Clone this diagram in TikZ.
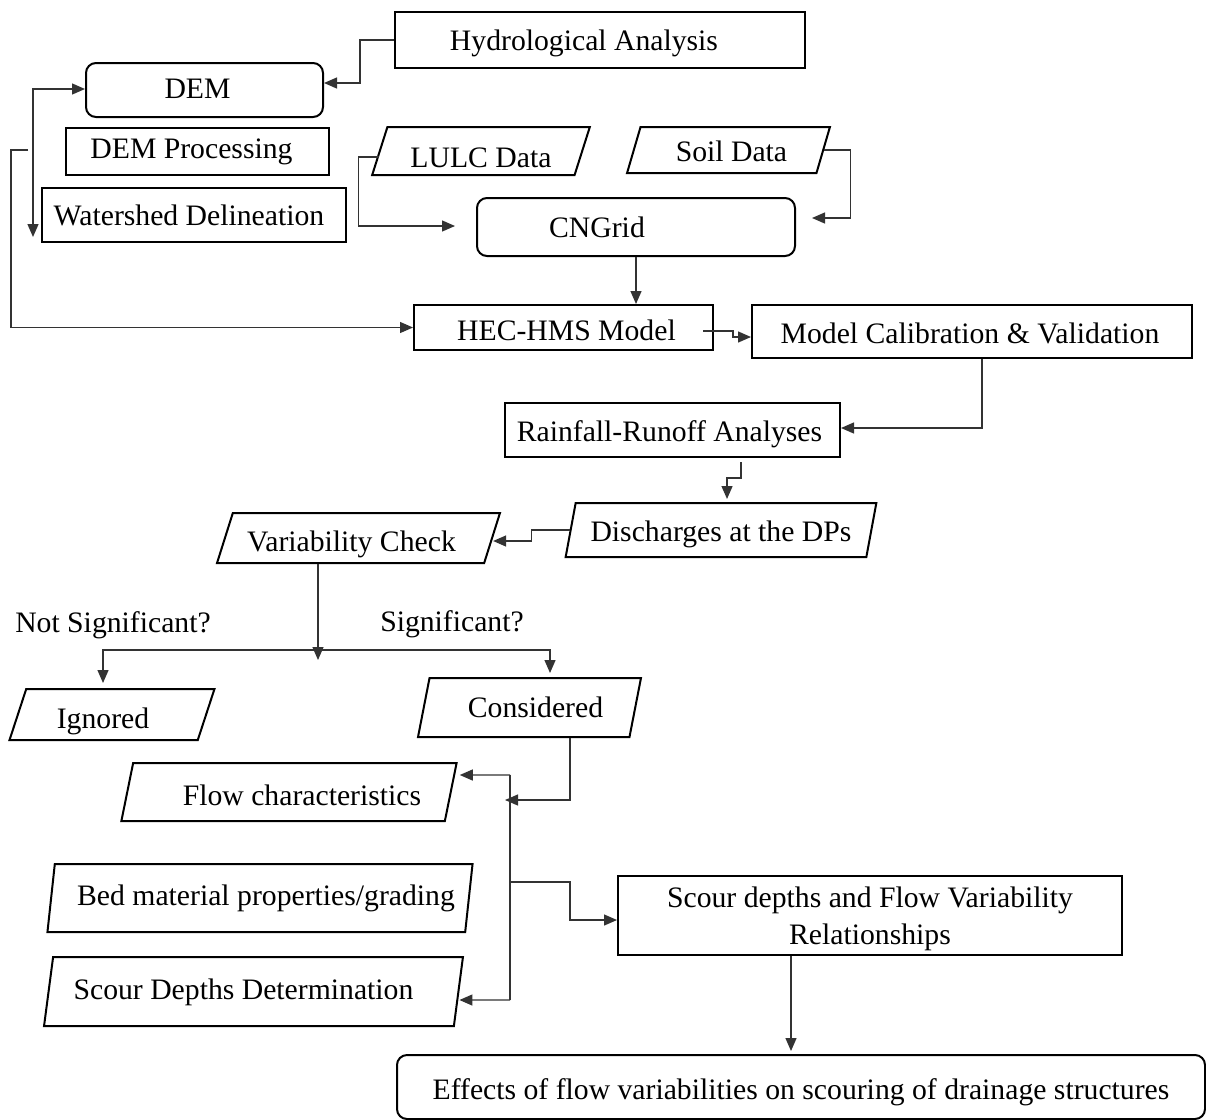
\documentclass[tikz,border=0pt]{standalone}
\usepackage{fontspec}
\setmainfont{Liberation Serif}
\usetikzlibrary{arrows.meta,shapes.geometric,calc}
\newcommand\boxfont{\fontsize{29.7}{37}\selectfont}
\tikzset{
  base/.style={draw=black, line width=2pt, inner sep=0pt, font=\boxfont, text=black,
               align=center, text height=27pt, text depth=7pt},
  rbox/.style={base, rectangle},
  roundbox/.style={base, rectangle, rounded corners=10pt},
  para/.style={base, trapezium, trapezium left angle=76, trapezium right angle=104,
               trapezium stretches=true},
  th/.style={text height=#1},
  conn/.style={draw=black!80, line width=1.3pt},
  tip/.tip={Triangle[length=13pt,width=11pt]},
  arr/.style={conn, -tip},
  darr/.style={conn, tip-tip},
  tag/.style={font=\boxfont, text=black, inner sep=0pt}
}
\begin{document}
\begin{tikzpicture}[x=1pt,y=-1pt]
\useasboundingbox[fill=white] (0,0) rectangle (1206,1119);

% --- input stage ---
\node[rbox, minimum width=410pt, minimum height=56pt] (hydro) at (600,40) {\hspace*{-32pt}Hydrological Analysis};
\node[roundbox, th=23pt, minimum width=237pt, minimum height=54pt] (dem) at (204.5,90) {\hspace*{-14pt}DEM};
\node[rbox, th=20pt, minimum width=263pt, minimum height=47pt] (demproc) at (197.5,151.5) {\hspace*{-12pt}DEM Processing};
\node[rbox, minimum width=304pt, minimum height=54pt] (wshed) at (194,215) {\hspace*{-10pt}Watershed Delineation};
\node[para, th=39pt, minimum width=218pt, minimum height=48pt] (lulc) at (481,151) {LULC Data};
\node[para, th=29pt, minimum width=203pt, minimum height=46pt] (soil) at (728.5,150) {\hspace*{6pt}Soil Data};
\node[roundbox, minimum width=318pt, minimum height=58pt] (cngrid) at (636,227) {\hspace*{-78pt}CNGrid};

% --- hydrologic model ---
\node[rbox, th=32pt, minimum width=299pt, minimum height=45pt] (hec) at (563.5,327.5) {\hspace*{6pt}HEC-HMS Model};
\node[rbox, th=30pt, minimum width=440pt, minimum height=53pt] (modcal) at (972,331.5) {\hspace*{-4pt}Model Calibration \& Validation};
\node[rbox, th=29pt, minimum width=335pt, minimum height=54pt] (rain) at (672.5,430) {\hspace*{-6pt}Rainfall-Runoff Analyses};
\node[para, th=29pt, minimum width=312pt, minimum height=54pt] (disch) at (721,530) {Discharges at the DPs};
\node[para, th=33pt, minimum width=283pt, minimum height=50pt, trapezium left angle=73, trapezium right angle=107] (var) at (358.5,538) {\hspace*{-14pt}Variability Check};

% --- decision ---
\node[tag] (notsig) at (113,625) {Not Significant?};
\node[tag] (sig) at (452,624) {Significant?};
\node[para, th=34pt, minimum width=206pt, minimum height=51pt, trapezium left angle=80, trapezium right angle=100] (ignored) at (112,714.5) {\hspace*{-18pt}Ignored};
\node[para, minimum width=223pt, minimum height=59pt] (considered) at (529.5,707.5) {\hspace*{12pt}Considered};

% --- scour analysis ---
\node[para, th=33pt, minimum width=336pt, minimum height=58pt] (flow) at (289,792) {\hspace*{26pt}Flow characteristics};
\node[para, th=21pt, minimum width=426pt, minimum height=68pt] (bed) at (260,898) {\hspace*{12pt}Bed material properties/grading};
\node[para, th=22pt, minimum width=419pt, minimum height=69pt] (scourdet) at (253.5,991.5) {\hspace*{-20pt}Scour Depths Determination};
\node[rbox, minimum width=504pt, minimum height=79pt, text height=, text depth=] (scourrel) at (870,915.5)
      {\rule{0pt}{26.5pt}Scour depths and Flow Variability\\Relationships};
\node[roundbox, th=31pt, minimum width=808pt, minimum height=64pt] (effects) at (801,1087)
      {Effects of flow variabilities on scouring of drainage structures};

% --- free ends of connectors ---
\coordinate (wdn) at (33,237);
\coordinate (pstart) at (28,150);
\coordinate (cnL) at (455,226);
\coordinate (cnR) at (812,218);
\coordinate (hecout) at (703,331);
\coordinate (rout) at (741,462);
\coordinate (hub) at (318,650);
\coordinate (hubtip) at (318,660);
\coordinate (busin) at (505,800);
\coordinate (bustop) at (510,775);
\coordinate (busmid) at (510,882);
\coordinate (busbot) at (510,1000);

% --- connectors ---
\draw[arr] (hydro.west) -- ++(-34,0) |- ([yshift=7pt]dem.east);
\draw[darr] (wdn) |- ([yshift=1pt]dem.west);
\draw[arr] (pstart) -- ++(-17,0) |- (hec.west);
\draw[arr] ([yshift=-6pt]lulc.west) -- ++(-20,0) |- (cnL);
\draw[arr] (soil.east) -- ++(26,0) |- (cnR);
\draw[arr] (cngrid.south) -- (cngrid.south |- hec.north);
\draw[arr] (hecout) -- ++(30,0) -- ++(0,6) -- ([yshift=-5.5pt]modcal.west);
\draw[arr] ([xshift=10pt]modcal.south) |- ([yshift=2pt]rain.east);
\draw[arr] (rout) -- ++(0,16) -| ([xshift=6pt,yshift=3pt]disch.north);
\draw[arr] (disch.west) -- ++(-38,0) |- ([yshift=-3pt]var.east);
\draw[arr] (var.south -| hubtip) -- (hubtip);
\draw[arr] (hub) -| ([xshift=-9pt,yshift=5pt]ignored.north);
\draw[arr] (hub) -| ([xshift=20.5pt,yshift=4pt]considered.north);
\draw[arr] ([xshift=40.5pt]considered.south) |- (busin);
\draw[conn] (bustop) -- (busbot);
\draw[arr] (bustop) -- ([xshift=8pt,yshift=17pt]flow.east);
\draw[arr] (busbot) -- ([yshift=-8.5pt]scourdet.east);
\draw[arr] (busmid) -- ++(60,0) |- ([yshift=-4.5pt]scourrel.west);
\draw[arr] ([xshift=-79pt]scourrel.south) -- ([xshift=-79pt,yshift=3pt]scourrel.south |- effects.north);
\end{tikzpicture}
\end{document}
